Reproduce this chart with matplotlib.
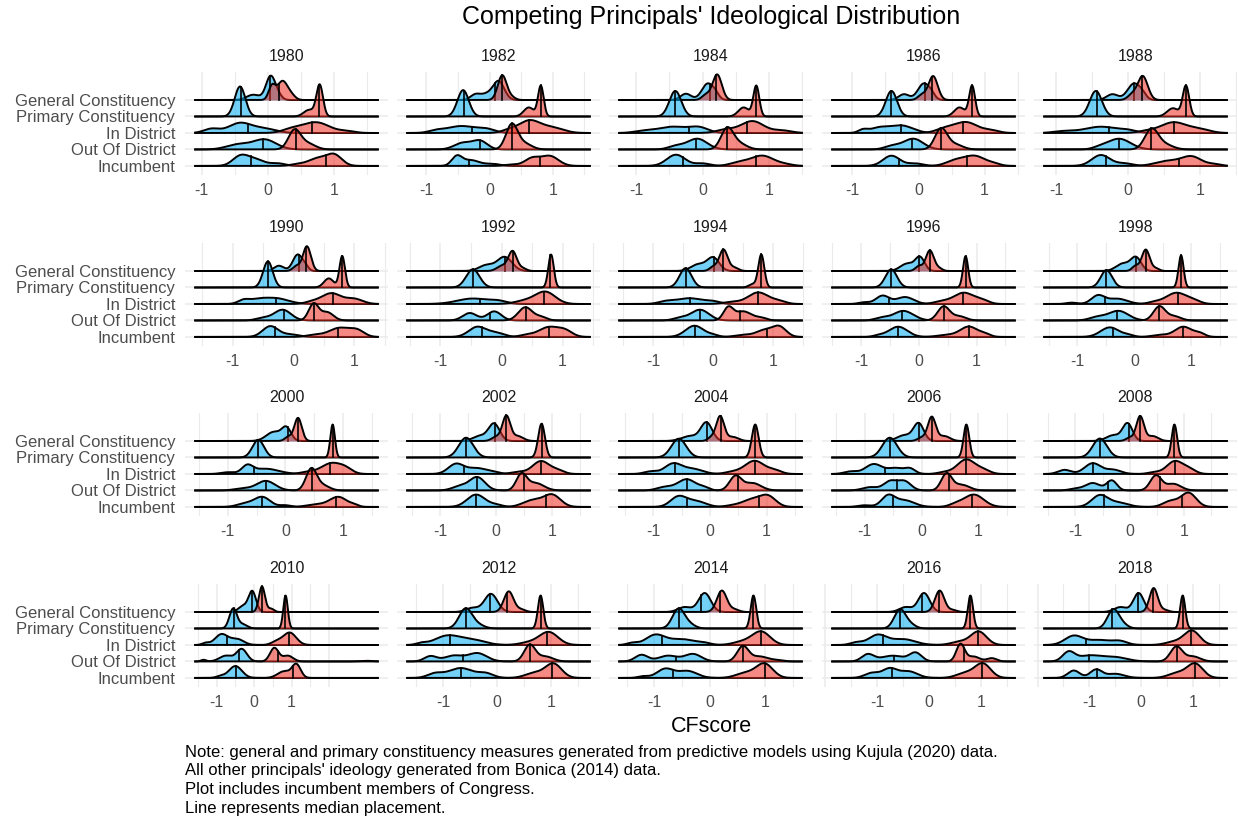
import numpy as np
import matplotlib.pyplot as plt

plt.rcParams['font.family'] = ['Liberation Sans', 'DejaVu Sans']

years = [1980, 1982, 1984, 1986, 1988, 1990, 1992, 1994, 1996, 1998,
         2000, 2002, 2004, 2006, 2008, 2010, 2012, 2014, 2016, 2018]
rows = ["General Constituency", "Primary Constituency", "In District",
        "Out Of District", "Incumbent"]

# data range (min, max CFscore) of each panel
x_range = {
    1980: (-1.11, 1.67), 1982: (-1.32, 1.60), 1984: (-1.27, 1.51), 1986: (-1.32, 1.47), 1988: (-1.18, 1.38),
    1990: (-1.63, 1.40), 1992: (-1.56, 1.46), 1994: (-1.58, 1.49), 1996: (-1.52, 1.68), 1998: (-1.60, 1.64),
    2000: (-1.58, 1.62), 2002: (-1.61, 1.69), 2004: (-1.62, 1.64), 2006: (-1.59, 1.66), 2008: (-1.59, 1.80),
    2010: (-1.60, 3.33), 2012: (-1.68, 1.74), 2014: (-1.65, 1.68), 2016: (-1.88, 1.66), 2018: (-1.89, 1.67),
}

# density shape: bumps (centre, spread, height) per row
dem_bumps = {
    1980: [[(0.04, 0.07, 1.42), (-0.22, 0.1, 0.32), (0.15, 0.06, 0.25)], [(-0.42, 0.08, 1.82)],
           [(-0.42, 0.15, 0.6), (-0.85, 0.1, 0.25), (-0.05, 0.15, 0.25)], [(-0.05, 0.15, 0.6), (-0.45, 0.15, 0.3)],
           [(-0.42, 0.1, 0.55), (-0.2, 0.12, 0.4), (0.15, 0.1, 0.15)]],
    1982: [[(0.14, 0.09, 1.15), (-0.22, 0.08, 0.35), (-0.05, 0.08, 0.3)], [(-0.42, 0.09, 1.6)],
           [(-0.45, 0.2, 0.42), (-0.05, 0.12, 0.2), (-0.85, 0.1, 0.12)], [(-0.15, 0.1, 0.5), (-0.42, 0.12, 0.4)],
           [(-0.52, 0.07, 0.55), (-0.3, 0.12, 0.35), (0.05, 0.1, 0.12)]],
    1984: [[(0.08, 0.09, 1.0), (-0.25, 0.08, 0.38), (0.2, 0.05, 0.2)], [(-0.41, 0.09, 1.55)],
           [(-0.45, 0.2, 0.38), (-0.05, 0.12, 0.3), (-0.9, 0.12, 0.1)], [(-0.08, 0.13, 0.65), (-0.4, 0.1, 0.2)],
           [(-0.4, 0.12, 0.68), (0.0, 0.1, 0.15)]],
    1986: [[(0.08, 0.09, 1.0), (-0.22, 0.08, 0.35), (0.2, 0.05, 0.2)], [(-0.41, 0.085, 1.55)],
           [(-0.26, 0.15, 0.45), (-0.6, 0.12, 0.3), (-0.84, 0.06, 0.18)], [(-0.08, 0.13, 0.65), (-0.4, 0.1, 0.2)],
           [(-0.41, 0.11, 0.62), (-0.05, 0.1, 0.15)]],
    1988: [[(0.08, 0.09, 1.0), (-0.22, 0.08, 0.35), (0.2, 0.05, 0.2)], [(-0.45, 0.085, 1.55)],
           [(-0.38, 0.2, 0.38), (-0.9, 0.12, 0.1), (0.0, 0.1, 0.12)], [(-0.13, 0.14, 0.65), (-0.4, 0.08, 0.1)],
           [(-0.38, 0.11, 0.66), (-0.05, 0.1, 0.15)]],
    1990: [[(0.07, 0.08, 1.0), (-0.24, 0.08, 0.32), (0.2, 0.05, 0.2)], [(-0.42, 0.08, 1.58)],
           [(-0.3, 0.18, 0.35), (-0.82, 0.08, 0.22), (-0.6, 0.12, 0.2)], [(-0.18, 0.12, 0.65), (-0.5, 0.1, 0.15)],
           [(-0.38, 0.11, 0.65), (-0.05, 0.12, 0.15)]],
    1992: [[(0.05, 0.12, 0.85), (-0.25, 0.12, 0.35)], [(-0.47, 0.11, 1.1)],
           [(-0.47, 0.22, 0.33), (-0.05, 0.12, 0.15)], [(-0.12, 0.1, 0.55), (-0.52, 0.1, 0.45)],
           [(-0.4, 0.12, 0.6), (-0.1, 0.12, 0.25)]],
    1994: [[(0.0, 0.1, 0.8), (-0.25, 0.12, 0.4)], [(-0.46, 0.1, 1.17)],
           [(-0.4, 0.2, 0.35), (-0.8, 0.1, 0.12), (0.0, 0.1, 0.12)], [(-0.22, 0.13, 0.65), (-0.55, 0.1, 0.15)],
           [(-0.31, 0.13, 0.68), (0.0, 0.08, 0.1)]],
    1996: [[(0.02, 0.08, 0.8), (-0.2, 0.12, 0.45)], [(-0.48, 0.1, 1.1)],
           [(-0.63, 0.1, 0.5), (-0.24, 0.13, 0.42), (-0.95, 0.08, 0.1)], [(-0.27, 0.15, 0.58), (-0.65, 0.1, 0.15)],
           [(-0.36, 0.14, 0.62), (-0.7, 0.08, 0.08)]],
    1998: [[(0.03, 0.09, 0.8), (-0.2, 0.12, 0.45)], [(-0.49, 0.1, 1.05)],
           [(-0.64, 0.1, 0.5), (-0.3, 0.15, 0.32), (-1.1, 0.08, 0.08)], [(-0.28, 0.15, 0.58), (-0.65, 0.12, 0.2)],
           [(-0.43, 0.14, 0.58), (-0.1, 0.08, 0.1)]],
    2000: [[(0.02, 0.08, 0.75), (-0.2, 0.13, 0.55)], [(-0.47, 0.1, 1.07)],
           [(-0.66, 0.08, 0.45), (-0.35, 0.2, 0.32), (-1.0, 0.1, 0.1)], [(-0.34, 0.14, 0.58), (-0.75, 0.12, 0.12)],
           [(-0.4, 0.12, 0.6), (-0.7, 0.12, 0.2), (0.0, 0.08, 0.1)]],
    2002: [[(-0.04, 0.1, 1.05), (-0.3, 0.12, 0.3)], [(-0.54, 0.13, 1.2)],
           [(-0.72, 0.12, 0.6), (-0.35, 0.15, 0.35), (-0.05, 0.1, 0.1)], [(-0.34, 0.12, 0.8), (-0.65, 0.12, 0.25)],
           [(-0.36, 0.14, 0.75), (0.0, 0.1, 0.12)]],
    2004: [[(-0.06, 0.1, 1.1), (-0.35, 0.15, 0.3)], [(-0.55, 0.13, 1.14)],
           [(-0.65, 0.13, 0.62), (-0.3, 0.15, 0.3), (-1.05, 0.1, 0.15)],
           [(-0.41, 0.14, 0.68), (-0.8, 0.12, 0.2), (-0.1, 0.08, 0.15)],
           [(-0.56, 0.12, 0.6), (-0.25, 0.15, 0.35)]],
    2006: [[(-0.05, 0.09, 1.05), (-0.3, 0.13, 0.35)], [(-0.56, 0.13, 1.2)],
           [(-0.84, 0.13, 0.6), (-0.45, 0.12, 0.35), (-0.2, 0.08, 0.3), (-1.25, 0.1, 0.15)],
           [(-0.55, 0.1, 0.55), (-0.3, 0.1, 0.55), (-0.9, 0.12, 0.2)],
           [(-0.59, 0.1, 0.65), (-0.3, 0.15, 0.4), (-1.0, 0.1, 0.1)]],
    2008: [[(-0.04, 0.09, 1.05), (-0.3, 0.13, 0.35)], [(-0.55, 0.13, 1.15)],
           [(-0.68, 0.13, 0.65), (-0.3, 0.12, 0.25), (-1.2, 0.1, 0.25)],
           [(-0.33, 0.08, 0.6), (-0.68, 0.12, 0.45), (-1.0, 0.1, 0.1)],
           [(-0.55, 0.13, 0.7), (-0.2, 0.15, 0.25)]],
    2010: [[(-0.05, 0.1, 1.25), (-0.3, 0.12, 0.35)], [(-0.56, 0.1, 1.2), (-0.3, 0.12, 0.25)],
           [(-0.87, 0.15, 0.65), (-0.45, 0.15, 0.35), (-1.3, 0.08, 0.12)],
           [(-0.33, 0.12, 0.75), (-0.75, 0.15, 0.35), (-1.35, 0.06, 0.1)],
           [(-0.5, 0.15, 0.72), (-0.9, 0.1, 0.1)]],
    2012: [[(-0.11, 0.12, 1.1), (-0.45, 0.12, 0.25)], [(-0.58, 0.12, 1.2), (-0.35, 0.12, 0.2)],
           [(-0.92, 0.2, 0.55), (-0.45, 0.2, 0.3), (-1.4, 0.08, 0.1)],
           [(-0.36, 0.15, 0.5), (-1.23, 0.1, 0.32), (-0.8, 0.15, 0.35)],
           [(-0.67, 0.2, 0.6), (-0.2, 0.12, 0.25), (-1.15, 0.12, 0.25)]],
    2014: [[(-0.09, 0.11, 1.15), (-0.45, 0.12, 0.3)], [(-0.56, 0.11, 1.2), (-0.35, 0.1, 0.2)],
           [(-0.98, 0.15, 0.6), (-0.5, 0.2, 0.35), (-1.4, 0.08, 0.12), (-0.1, 0.1, 0.1)],
           [(-1.23, 0.1, 0.4), (-0.75, 0.15, 0.35), (-0.3, 0.13, 0.45)],
           [(-0.8, 0.13, 0.55), (-0.4, 0.15, 0.42), (-1.2, 0.08, 0.1)]],
    2016: [[(-0.1, 0.11, 1.15), (-0.45, 0.12, 0.3)], [(-0.56, 0.11, 1.15), (-0.35, 0.1, 0.2)],
           [(-0.99, 0.15, 0.6), (-0.5, 0.2, 0.35), (-1.4, 0.1, 0.15)],
           [(-1.18, 0.1, 0.42), (-0.26, 0.1, 0.5), (-0.7, 0.2, 0.35)],
           [(-0.76, 0.12, 0.55), (-0.4, 0.15, 0.4), (-1.1, 0.12, 0.3)]],
    2018: [[(-0.05, 0.1, 1.15), (-0.4, 0.12, 0.3)], [(-0.54, 0.11, 1.15), (-0.35, 0.1, 0.2)],
           [(-1.3, 0.15, 0.55), (-0.8, 0.2, 0.3), (-0.4, 0.12, 0.2)],
           [(-1.4, 0.1, 0.55), (-1.0, 0.2, 0.35), (-0.5, 0.2, 0.25)],
           [(-1.3, 0.1, 0.45), (-0.87, 0.1, 0.5), (-0.5, 0.15, 0.25)]],
}

rep_bumps = {
    1980: [[(0.22, 0.08, 1.15), (0.06, 0.05, 0.8), (0.36, 0.06, 0.2)], [(0.78, 0.05, 1.9), (0.62, 0.08, 0.4)],
           [(0.72, 0.18, 0.65), (0.35, 0.12, 0.2), (1.2, 0.1, 0.1)], [(0.4, 0.08, 1.15), (0.6, 0.1, 0.35)],
           [(1.0, 0.1, 0.65), (0.75, 0.12, 0.45), (0.45, 0.1, 0.1)]],
    1982: [[(0.2, 0.07, 1.5), (0.35, 0.06, 0.15)], [(0.81, 0.045, 1.85), (0.62, 0.08, 0.55)],
           [(0.63, 0.15, 0.75), (1.0, 0.15, 0.3), (0.3, 0.1, 0.15)], [(0.35, 0.08, 1.5), (0.55, 0.1, 0.35)],
           [(0.95, 0.12, 0.6), (0.67, 0.1, 0.45), (0.35, 0.1, 0.08)]],
    1984: [[(0.22, 0.07, 1.55), (0.05, 0.06, 0.3)], [(0.81, 0.045, 1.85), (0.62, 0.08, 0.55)],
           [(0.75, 0.15, 0.72), (0.35, 0.12, 0.2), (1.2, 0.12, 0.15)], [(0.37, 0.08, 1.25), (0.55, 0.1, 0.35)],
           [(0.9, 0.15, 0.62), (0.55, 0.12, 0.2), (1.25, 0.1, 0.08)]],
    1986: [[(0.22, 0.07, 1.45), (0.05, 0.06, 0.3)], [(0.81, 0.045, 1.85), (0.62, 0.08, 0.55)],
           [(0.72, 0.15, 0.65), (0.4, 0.12, 0.25), (1.1, 0.1, 0.15)], [(0.34, 0.08, 1.25), (0.55, 0.1, 0.3)],
           [(0.85, 0.14, 0.6), (0.55, 0.12, 0.3), (1.15, 0.08, 0.1)]],
    1988: [[(0.2, 0.07, 1.45), (0.05, 0.06, 0.3)], [(0.8, 0.045, 1.85), (0.62, 0.08, 0.5)],
           [(0.63, 0.16, 0.65), (1.0, 0.12, 0.2), (0.25, 0.1, 0.1)], [(0.32, 0.08, 1.2), (0.5, 0.1, 0.3)],
           [(0.88, 0.12, 0.55), (0.55, 0.15, 0.3), (1.2, 0.08, 0.1)]],
    1990: [[(0.22, 0.065, 1.5), (0.05, 0.06, 0.3)], [(0.8, 0.045, 1.9), (0.58, 0.08, 0.55)],
           [(0.62, 0.14, 0.65), (1.0, 0.12, 0.3), (0.3, 0.1, 0.12)], [(0.33, 0.07, 1.0), (0.55, 0.09, 0.5)],
           [(0.76, 0.15, 0.55), (1.05, 0.1, 0.35), (0.35, 0.12, 0.12)]],
    1992: [[(0.18, 0.07, 1.2), (0.0, 0.08, 0.3), (0.35, 0.06, 0.15)], [(0.81, 0.045, 2.0)],
           [(0.72, 0.14, 0.72), (0.4, 0.15, 0.2)], [(0.39, 0.1, 0.8), (0.65, 0.08, 0.2)],
           [(0.78, 0.15, 0.6), (1.05, 0.1, 0.3), (0.4, 0.1, 0.1)]],
    1994: [[(0.17, 0.07, 1.3), (0.0, 0.06, 0.25), (0.35, 0.07, 0.2)], [(0.8, 0.05, 2.0), (0.65, 0.06, 0.2)],
           [(0.75, 0.15, 0.7), (1.1, 0.1, 0.15), (0.3, 0.12, 0.12)],
           [(0.25, 0.07, 0.75), (0.5, 0.12, 0.55), (0.8, 0.08, 0.15)],
           [(1.1, 0.1, 0.6), (0.85, 0.12, 0.4), (0.5, 0.12, 0.12)]],
    1996: [[(0.19, 0.07, 1.25), (0.0, 0.06, 0.3), (0.35, 0.06, 0.15)], [(0.81, 0.045, 1.9)],
           [(0.78, 0.15, 0.68), (0.4, 0.12, 0.15), (1.1, 0.1, 0.2)], [(0.43, 0.09, 0.85), (0.7, 0.1, 0.25)],
           [(0.87, 0.13, 0.62), (0.5, 0.15, 0.12), (1.15, 0.08, 0.15)]],
    1998: [[(0.2, 0.07, 1.3), (0.02, 0.06, 0.3), (0.38, 0.06, 0.15)], [(0.82, 0.045, 1.95)],
           [(0.74, 0.16, 0.68), (1.05, 0.1, 0.15), (0.35, 0.1, 0.1)], [(0.44, 0.09, 0.85), (0.7, 0.1, 0.25)],
           [(0.86, 0.13, 0.62), (1.15, 0.08, 0.2), (0.45, 0.12, 0.12)]],
    2000: [[(0.22, 0.065, 1.4), (0.05, 0.06, 0.25)], [(0.82, 0.04, 2.0)],
           [(0.8, 0.15, 0.65), (1.05, 0.1, 0.25), (0.4, 0.12, 0.12)], [(0.45, 0.08, 1.3), (0.65, 0.1, 0.3)],
           [(0.92, 0.13, 0.6), (0.55, 0.15, 0.15), (1.2, 0.06, 0.1)]],
    2002: [[(0.18, 0.07, 1.5), (0.38, 0.1, 0.3), (0.0, 0.08, 0.25)], [(0.81, 0.06, 2.05)],
           [(0.8, 0.13, 0.78), (1.1, 0.1, 0.2), (0.4, 0.12, 0.12)], [(0.45, 0.08, 0.95), (0.7, 0.13, 0.45)],
           [(1.0, 0.13, 0.72), (0.65, 0.15, 0.4)]],
    2004: [[(0.18, 0.07, 1.5), (0.4, 0.1, 0.25), (0.02, 0.06, 0.2)], [(0.8, 0.06, 2.0)],
           [(0.79, 0.15, 0.8), (1.15, 0.1, 0.2), (0.4, 0.12, 0.12)], [(0.45, 0.09, 0.85), (0.75, 0.13, 0.45)],
           [(1.03, 0.12, 0.6), (0.75, 0.15, 0.45), (0.4, 0.12, 0.08)]],
    2006: [[(0.18, 0.07, 1.45), (0.4, 0.1, 0.3), (0.0, 0.07, 0.2)], [(0.79, 0.05, 2.0)],
           [(0.79, 0.14, 0.88), (1.1, 0.1, 0.2), (0.4, 0.1, 0.1)], [(0.44, 0.08, 1.0), (0.7, 0.12, 0.35)],
           [(0.92, 0.15, 0.75), (0.6, 0.1, 0.15)]],
    2008: [[(0.19, 0.07, 1.5), (0.42, 0.1, 0.3), (0.0, 0.07, 0.2)], [(0.82, 0.05, 2.0)],
           [(0.83, 0.13, 0.78), (1.1, 0.1, 0.25), (0.45, 0.1, 0.1)], [(0.48, 0.09, 0.9), (0.8, 0.12, 0.4)],
           [(1.08, 0.12, 0.85), (0.75, 0.12, 0.35)]],
    2010: [[(0.21, 0.08, 1.55), (0.45, 0.08, 0.2)], [(0.84, 0.06, 2.0)],
           [(0.95, 0.15, 0.75), (0.6, 0.12, 0.2)], [(0.54, 0.1, 0.82), (0.9, 0.12, 0.35), (3.0, 0.15, 0.04)],
           [(1.13, 0.1, 0.8), (0.8, 0.15, 0.4)]],
    2012: [[(0.22, 0.09, 1.25), (0.45, 0.08, 0.15)], [(0.81, 0.05, 2.0)],
           [(0.96, 0.15, 0.78), (0.6, 0.15, 0.15)], [(0.61, 0.09, 1.0), (0.9, 0.12, 0.3)],
           [(1.05, 0.13, 0.85), (0.7, 0.15, 0.3)]],
    2014: [[(0.22, 0.09, 1.3), (0.45, 0.08, 0.15)], [(0.79, 0.05, 2.0)],
           [(0.93, 0.14, 0.8), (0.6, 0.15, 0.2)], [(0.6, 0.09, 0.92), (0.9, 0.12, 0.3), (1.2, 0.1, 0.08)],
           [(0.99, 0.13, 0.85), (0.65, 0.15, 0.3)]],
    2016: [[(0.2, 0.09, 1.3), (0.45, 0.08, 0.12)], [(0.79, 0.05, 2.0)],
           [(0.95, 0.13, 0.8), (0.6, 0.15, 0.2)], [(0.6, 0.07, 1.05), (1.2, 0.08, 0.2), (0.85, 0.1, 0.3)],
           [(1.03, 0.13, 0.85), (0.7, 0.15, 0.3)]],
    2018: [[(0.24, 0.08, 1.45), (0.45, 0.08, 0.12)], [(0.8, 0.05, 2.0)],
           [(0.98, 0.13, 0.85), (0.65, 0.15, 0.2)], [(0.68, 0.1, 0.9), (1.0, 0.12, 0.3)],
           [(1.04, 0.13, 0.85), (0.7, 0.15, 0.3)]],
}

# medians (General, Primary, In, Out, Incumbent)
dem_median = {
    1980: [0.03, -0.41, -0.3, -0.08, -0.26], 1982: [0.09, -0.4, -0.28, -0.15, -0.33],
    1984: [0.11, -0.41, -0.2, -0.1, -0.3], 1986: [0.1, -0.41, -0.26, -0.1, -0.3],
    1988: [0.08, -0.44, -0.27, -0.13, -0.31], 1990: [0.09, -0.42, -0.29, -0.15, -0.31],
    1992: [0.06, -0.46, -0.36, -0.19, -0.32], 1994: [0.01, -0.46, -0.39, -0.22, -0.31],
    1996: [0.0, -0.48, -0.51, -0.3, -0.37], 1998: [0.02, -0.49, -0.52, -0.3, -0.37],
    2000: [0.04, -0.47, -0.54, -0.34, -0.4], 2002: [-0.03, -0.54, -0.57, -0.34, -0.37],
    2004: [-0.05, -0.55, -0.62, -0.4, -0.41], 2006: [-0.05, -0.56, -0.65, -0.43, -0.5],
    2008: [-0.02, -0.55, -0.68, -0.4, -0.48], 2010: [-0.05, -0.55, -0.72, -0.4, -0.48],
    2012: [-0.12, -0.57, -0.86, -0.62, -0.67], 2014: [-0.15, -0.56, -0.86, -0.6, -0.66],
    2016: [-0.13, -0.56, -0.89, -0.67, -0.72], 2018: [-0.06, -0.56, -1.07, -1.0, -0.86],
}
rep_median = {
    1980: [0.16, 0.77, 0.67, 0.42, 0.87], 1982: [0.19, 0.81, 0.63, 0.36, 0.79],
    1984: [0.2, 0.8, 0.67, 0.37, 0.81], 1986: [0.2, 0.81, 0.67, 0.34, 0.74],
    1988: [0.19, 0.8, 0.64, 0.32, 0.7], 1990: [0.2, 0.8, 0.65, 0.34, 0.73],
    1992: [0.18, 0.8, 0.69, 0.4, 0.78], 1994: [0.17, 0.8, 0.75, 0.44, 0.89],
    1996: [0.19, 0.81, 0.76, 0.43, 0.87], 1998: [0.2, 0.82, 0.76, 0.44, 0.86],
    2000: [0.22, 0.82, 0.77, 0.46, 0.88], 2002: [0.18, 0.81, 0.8, 0.5, 0.89],
    2004: [0.19, 0.8, 0.79, 0.49, 0.87], 2006: [0.18, 0.79, 0.79, 0.48, 0.89],
    2008: [0.19, 0.82, 0.83, 0.55, 0.96], 2010: [0.21, 0.83, 0.93, 0.63, 1.04],
    2012: [0.19, 0.81, 0.93, 0.61, 1.02], 2014: [0.19, 0.79, 0.92, 0.6, 0.99],
    2016: [0.18, 0.79, 0.93, 0.67, 1.02], 2018: [0.22, 0.8, 0.96, 0.69, 1.03],
}

notes = ["Note: general and primary constituency measures generated from predictive models using Kujula (2020) data.",
         "All other principals' ideology generated from Bonica (2014) data.",
         "Plot includes incumbent members of Congress.",
         "Line represents median placement."]

blue = '#00AAF0'
red = '#EB2A1E'
W, H = 1238, 823


def ridge(x, bumps, widen=1.0):
    y = np.zeros_like(x)
    for c, s, h in bumps:
        y += h * np.exp(-0.5 * ((x - c) / (s * widen)) ** 2)
    return y


fig = plt.figure(figsize=(W / 100, H / 100), dpi=100)
fig.text(711 / W, 1 - 17 / H, "Competing Principals' Ideological Distribution",
         ha='center', va='center', fontsize=18)

lefts = [185, 397, 609, 822, 1034]
tops = [72, 243, 413, 584]
pw, ph = 203, 103

for k, yr in enumerate(years):
    r, c = divmod(k, 5)
    ax = fig.add_axes([lefts[c] / W, 1 - (tops[r] + ph) / H, pw / W, ph / H])
    lo, hi = x_range[yr]
    pad = 0.05 * (hi - lo)
    ax.set_xlim(lo - pad, hi + pad)
    ax.set_ylim(-0.55, 5.7)
    for g in np.arange(-2, 2.01, 0.5):
        ax.axvline(g, color='#EBEBEB', lw=1.1 if g % 1 == 0 else 0.8, zorder=0)
    for b in range(5):
        ax.axhline(b, color='#EBEBEB', lw=1.1, zorder=0)

    x = np.linspace(lo, hi, 800)
    for i in range(5):
        base = 4 - i
        z = 2 + i * 4
        wd = 1.0 if i < 2 else 1.15   # the broad rows look smoother
        for bumps, med, col, dz in [(dem_bumps[yr][i], dem_median[yr][i], blue, 0),
                                    (rep_bumps[yr][i], rep_median[yr][i], red, 2)]:
            d = ridge(x, bumps, wd)
            ax.fill_between(x, base, base + d, color=col, alpha=0.55, lw=0, zorder=z + dz)
            ax.plot(x, base + d, color='black', lw=1.4, zorder=z + dz + 0.5, solid_capstyle='butt')
            hm = ridge(np.array([med]), bumps, wd)[0]
            ax.plot([med, med], [base, base + hm], color='black', lw=1.2, zorder=z + dz + 0.6)

    ax.set_xticks([-1, 0, 1])
    ax.set_xticklabels(['-1', '0', '1'])
    ax.tick_params(axis='x', length=0, pad=6, labelsize=11.5, labelcolor='#4D4D4D')
    ax.set_yticks(range(5))
    if c == 0:
        ax.set_yticklabels(rows[::-1])
        ax.tick_params(axis='y', length=0, pad=7, labelsize=12, labelcolor='#4D4D4D')
    else:
        ax.set_yticklabels([])
        ax.tick_params(axis='y', length=0)
    for s in ax.spines.values():
        s.set_visible(False)
    ax.set_title(str(yr), fontsize=11.5, color='#1A1A1A', pad=8)

fig.text(711 / W, 1 - 726 / H, 'CFscore', ha='center', va='center', fontsize=15.5)
for j, line in enumerate(notes):
    fig.text(185 / W, 1 - (752 + j * 18.7) / H, line, ha='left', va='center', fontsize=12)

fig.savefig('out.png', dpi=100)
